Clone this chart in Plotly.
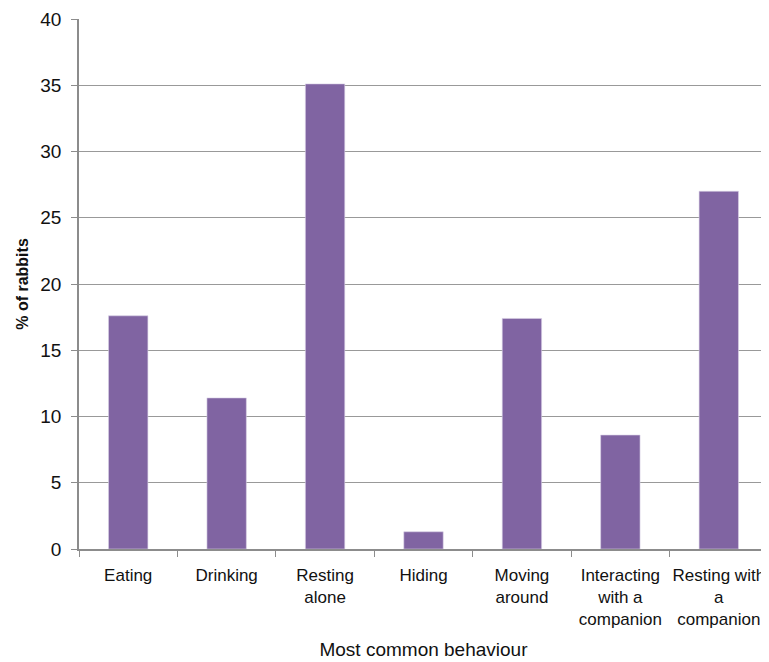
import plotly.graph_objects as go

categories = ["Eating", "Drinking", "Resting<br>alone", "Hiding", "Moving<br>around",
              "Interacting<br>with a<br>companion", "Resting with<br>a<br>companion"]
percent_rabbits = [17.6, 11.4, 35.1, 1.3, 17.4, 8.6, 27.0]
y_ticks = [0, 5, 10, 15, 20, 25, 30, 35, 40]

fig = go.Figure()
fig.add_trace(go.Bar(
    x=categories, y=percent_rabbits,
    marker=dict(color="#8064A2", line=dict(color="#D9D0E6", width=0.6)),
    width=0.4,
))

axis_col = "#8C8C8C"
fig.update_layout(
    width=761, height=654,
    margin=dict(l=71, r=1, t=11, b=113),
    paper_bgcolor="white", plot_bgcolor="white",
    font=dict(family="Liberation Sans, Arial, sans-serif", color="#111111"),
    showlegend=False,
    bargap=0.6,
)
fig.update_xaxes(
    type="category", automargin=False, tickangle=0,
    showline=True, linecolor=axis_col, linewidth=1.5,
    ticks="outside", tickson="boundaries", ticklen=6, tickcolor=axis_col,
    tickfont=dict(size=17), ticklabelstandoff=10,
    title=dict(text="Most common behaviour", font=dict(size=19), standoff=14),
    showgrid=False,
)
fig.update_yaxes(
    range=[0, 40], tickvals=y_ticks, automargin=False,
    showline=True, linecolor=axis_col, linewidth=1.5,
    ticks="outside", ticklen=6, tickcolor=axis_col,
    tickfont=dict(size=19), ticklabelstandoff=6,
    showgrid=True, gridcolor="#999999", gridwidth=1,
    zeroline=False,
    title=dict(text="<b>% of rabbits</b>", font=dict(size=16), standoff=8),
)

fig.write_html("out.html")
